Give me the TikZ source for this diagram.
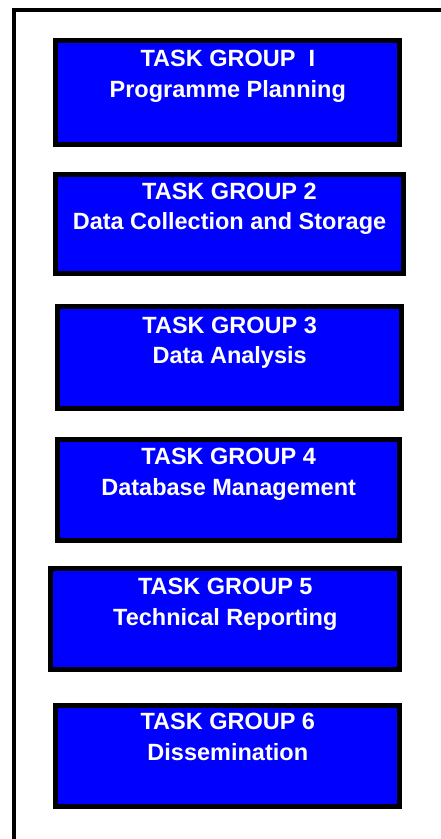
\documentclass[tikz,border=0pt]{standalone}
\usepackage{fontspec}
\setmainfont{Liberation Sans}
\begin{document}
\begin{tikzpicture}[x=1pt,y=-1pt,
  tgbox/.style={draw=black, fill=blue, line width=5pt, inner sep=0pt, outer sep=0pt, rectangle},
  tgtext/.style={text=white, font=\bfseries\fontsize{23.5}{27}\selectfont, inner sep=0pt, outer sep=0pt, anchor=base}]
\useasboundingbox (0,0) rectangle (441,839);
\coordinate (fbot) at (14,839);
\coordinate (fcorner) at (14,10);
\coordinate (fright) at (441,10);
\draw[line width=4pt] (fbot) -- (fcorner) -- (fright);
% boxes
\node[tgbox, minimum width=344pt, minimum height=103.4pt] (b1) at (227.8,92.5) {};
\node[tgbox, minimum width=347.4pt, minimum height=99.3pt] (b2) at (229.5,223.8) {};
\node[tgbox, minimum width=344.3pt, minimum height=101.4pt] (b3) at (229.7,357.5) {};
\node[tgbox, minimum width=342.3pt, minimum height=101pt] (b4) at (228.7,489.7) {};
\node[tgbox, minimum width=349pt, minimum height=101.3pt] (b5) at (225.3,619.2) {};
\node[tgbox, minimum width=344pt, minimum height=101.3pt] (b6) at (227.8,755.8) {};
% texts
\node[tgtext] (t1a) at ([yshift=-25.2pt]b1.north) {TASK GROUP\ \ I};
\node[tgtext] (t1b) at ([yshift=-57pt]b1.north) {Programme Planning};
\node[tgtext] (t2a) at ([yshift=-25.2pt]b2.north) {TASK GROUP 2};
\node[tgtext] (t2b) at ([yshift=-55.2pt]b2.north) {Data Collection and Storage};
\node[tgtext] (t3a) at ([yshift=-26.5pt]b3.north) {TASK GROUP 3};
\node[tgtext] (t3b) at ([yshift=-57pt]b3.north) {Data Analysis};
\node[tgtext] (t4a) at ([yshift=-25.2pt]b4.north) {TASK GROUP 4};
\node[tgtext] (t4b) at ([yshift=-56pt]b4.north) {Database Management};
\node[tgtext] (t5a) at ([yshift=-25.8pt]b5.north) {TASK GROUP 5};
\node[tgtext] (t5b) at ([yshift=-56.5pt]b5.north) {Technical Reporting};
\node[tgtext] (t6a) at ([yshift=-24.8pt]b6.north) {TASK GROUP 6};
\node[tgtext] (t6b) at ([yshift=-55.5pt]b6.north) {Dissemination};
\end{tikzpicture}
\end{document}
